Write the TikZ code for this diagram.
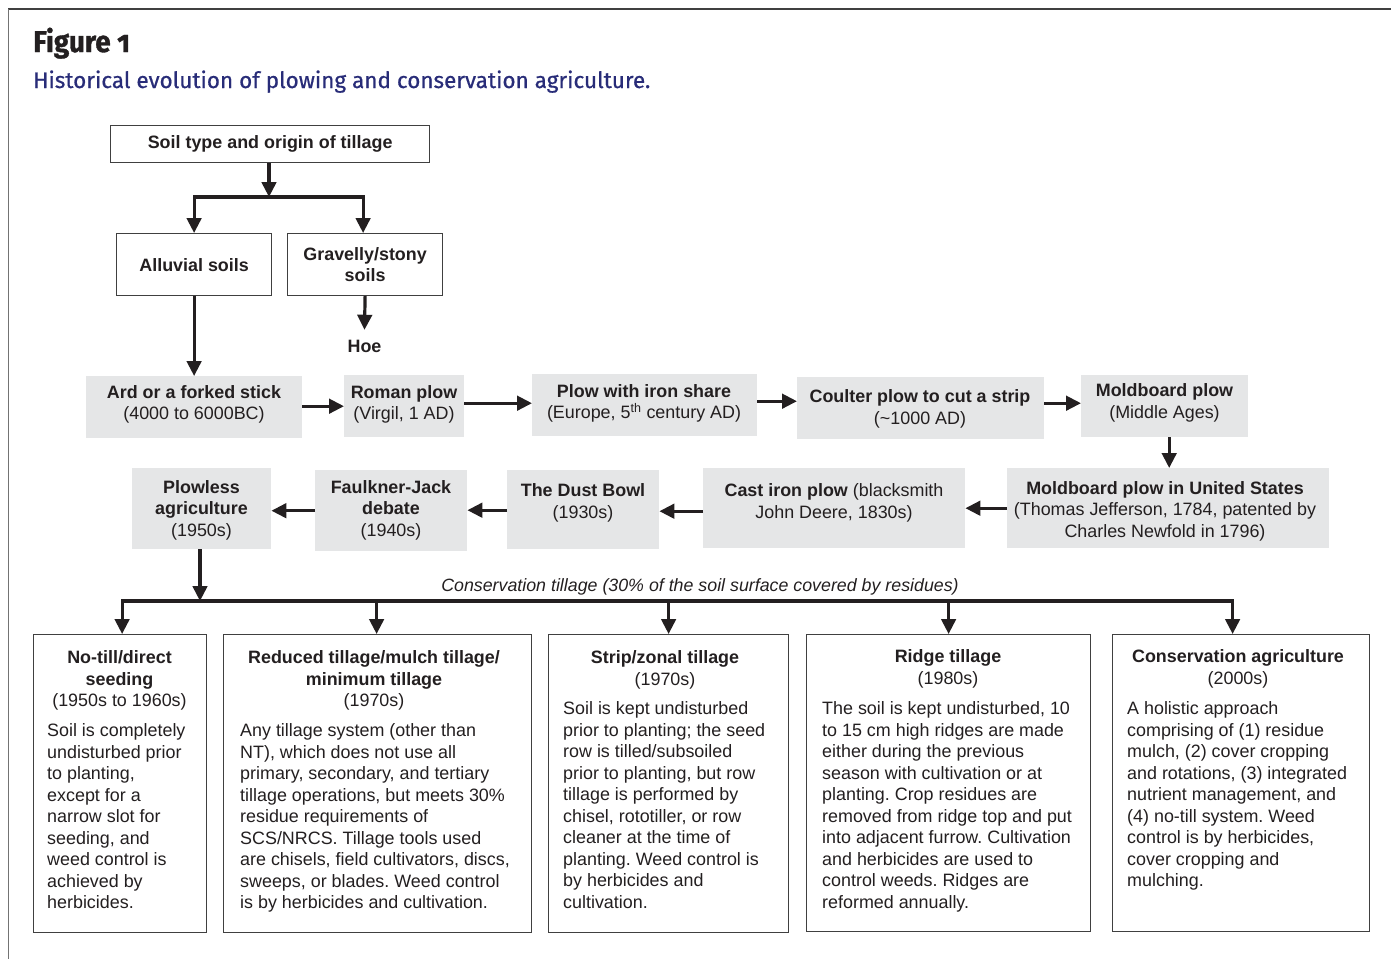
\documentclass[tikz,border=0pt]{standalone}
\usepackage{fontspec}
\usepackage{graphicx}
\setmainfont{Liberation Sans}
\newfontfamily\headfont{Fira Sans}[Numbers=OldStyle, BoldFeatures={FakeBold=1.2}]
\newfontfamily\subfont{Fira Sans}[FakeBold=0.6]
\usetikzlibrary{arrows.meta}
\definecolor{gfill}{RGB}{229,230,231}
\definecolor{navy}{RGB}{40,44,120}
\definecolor{ink}{RGB}{35,31,32}
\definecolor{bord}{RGB}{64,64,64}
\newcommand{\mainsize}{\fontsize{17.9}{21.5}\selectfont}
\frenchspacing
\tikzset{
  wbox/.style={draw=bord, line width=1.2pt, fill=white, inner sep=0pt, anchor=north west},
  gbox/.style={fill=gfill, draw=none, inner sep=0pt, anchor=north west},
  txt/.style={font=\mainsize, align=center, inner sep=0pt, text=ink},
  bodytxt/.style={font=\mainsize, align=left, inner sep=0pt, text=ink, anchor=north west},
  titletxt/.style={font=\mainsize, align=center, inner sep=0pt, text=ink, anchor=north},
  arr/.style={draw=ink, line width=3.2pt, -{Triangle[width=14.5pt,length=15pt]}},
}
\begin{document}
\frenchspacing
\begin{tikzpicture}[x=1pt,y=-1pt]
\useasboundingbox (0,0) rectangle (1391,959);
% frame
\draw[line width=2pt, black!75] (8,9) -- (1391,9);
\draw[line width=1pt, black!55] (8.5,9) -- (8.5,959);
% header
\node[anchor=base west, inner sep=0pt, font=\headfont\bfseries\fontsize{30}{34}\selectfont, text=ink] (fig) at (33,52) {\scalebox{0.93}[1]{Figure 1}};
\node[anchor=base west, inner sep=0pt, font=\subfont\fontsize{22.5}{26}\selectfont, text=navy] (sub) at (33,88) {Historical evolution of plowing and conservation agriculture.};

% top white boxes
\node[wbox, txt, minimum width=319pt, minimum height=37pt] (soil) at (110,125) {\textbf{Soil type and origin of tillage}};
\node[wbox, txt, minimum width=155pt, minimum height=62pt] (alluvial) at (116,233) {\textbf{Alluvial soils}};
\node[wbox, txt, minimum width=155pt, minimum height=62pt] (gravel) at (287,233) {\textbf{Gravelly/stony}\\\textbf{soils}};
\node[txt, font=\bfseries\mainsize, outer sep=10pt] (hoe) at (364.5,346) {Hoe};
\coordinate (br1) at (269,197);

% gray boxes row 1
\node[gbox, minimum width=216pt, minimum height=62pt] (ard) at (86,376) {};
\node[txt] (ardT) at (194,404.5) {\textbf{Ard or a forked stick}\\(4000 to 6000BC)};
\node[gbox, minimum width=120pt, minimum height=62pt] (roman) at (344,375) {};
\node[txt] (romanT) at (404,404.5) {\textbf{Roman plow}\\(Virgil, 1 AD)};
\node[gbox, minimum width=225pt, minimum height=62pt] (iron) at (532,374) {};
\node[txt] (ironT) at (644,403.5) {\textbf{Plow with iron share}\\(Europe, 5\textsuperscript{th} century AD)};
\node[gbox, minimum width=247pt, minimum height=62pt] (coulter) at (797,377) {};
\node[txt] (coulterT) at (920,409) {\textbf{Coulter plow to cut a strip}\\(\textasciitilde 1000 AD)};
\node[gbox, minimum width=167pt, minimum height=62pt] (mold) at (1081,375) {};
\node[txt] (moldT) at (1164.5,403) {\textbf{Moldboard plow}\\(Middle Ages)};

% gray boxes row 2
\node[gbox, minimum width=322pt, minimum height=80pt] (us) at (1007,468) {};
\node[txt] (usT) at (1165,511) {\textbf{Moldboard plow in United States}\\(Thomas Jefferson, 1784, patented by\\Charles Newfold in 1796)};
\node[gbox, minimum width=262pt, minimum height=80pt] (cast) at (703,468) {};
\node[txt] (castT) at (834,503) {\textbf{Cast iron plow} (blacksmith\\John Deere, 1830s)};
\node[gbox, minimum width=152pt, minimum height=79pt] (dust) at (507,470) {};
\node[txt] (dustT) at (583,503) {\textbf{The Dust Bowl}\\(1930s)};
\node[gbox, minimum width=152pt, minimum height=81pt] (faulk) at (315,470) {};
\node[txt] (faulkT) at (391,510) {\textbf{Faulkner-Jack}\\\textbf{debate}\\(1940s)};
\node[gbox, minimum width=139pt, minimum height=81pt] (plowless) at (132,468) {};
\node[txt] (plowlessT) at (201.5,510) {\textbf{Plowless}\\\textbf{agriculture}\\(1950s)};

% branch to bottom
\coordinate (br2) at (200,601);
\node[txt, font=\itshape\fontsize{17.8}{21}\selectfont] (ctlabel) at (700,587) {Conservation tillage (30\% of the soil surface covered by residues)};

% bottom boxes
\node[wbox, minimum width=173pt, minimum height=298pt] (b1) at (33,634) {};
\node[wbox, minimum width=308pt, minimum height=298pt] (b2) at (223,634) {};
\node[wbox, minimum width=240pt, minimum height=298pt] (b3) at (548,634) {};
\node[wbox, minimum width=284pt, minimum height=297pt] (b4) at (806,634) {};
\node[wbox, minimum width=257pt, minimum height=297pt] (b5) at (1112,634) {};

\node[titletxt] (b1T) at (119.5,650.5) {\textbf{No-till/direct}\\\textbf{seeding}\\(1950s to 1960s)};
\node[bodytxt] (b1B) at (47,723.5) {Soil is completely\\undisturbed prior\\to planting,\\except for a\\narrow slot for\\seeding, and\\weed control is\\achieved by\\herbicides.};

\node[titletxt] (b2T) at (374,650.5) {\textbf{Reduced tillage/mulch tillage/}\\\textbf{minimum tillage}\\(1970s)};
\node[bodytxt] (b2B) at (240,723.5) {Any tillage system (other than\\NT), which does not use all\\primary, secondary, and tertiary\\tillage operations, but meets 30\%\\residue requirements of\\SCS/NRCS. Tillage tools used\\are chisels, field cultivators, discs,\\sweeps, or blades. Weed control\\is by herbicides and cultivation.};

\node[titletxt] (b3T) at (665,650.5) {\textbf{Strip/zonal tillage}\\(1970s)};
\node[bodytxt] (b3B) at (563,701.5) {Soil is kept undisturbed\\prior to planting; the seed\\row is tilled/subsoiled\\prior to planting, but row\\tillage is performed by\\chisel, rototiller, or row\\cleaner at the time of\\planting. Weed control is\\by herbicides and\\cultivation.};

\node[titletxt] (b4T) at (948,649.5) {\textbf{Ridge tillage}\\(1980s)};
\node[bodytxt] (b4B) at (822,701.5) {The soil is kept undisturbed, 10\\to 15 cm high ridges are made\\either during the previous\\season with cultivation or at\\planting. Crop residues are\\removed from ridge top and put\\into adjacent furrow. Cultivation\\and herbicides are used to\\control weeds. Ridges are\\reformed annually.};

\node[titletxt] (b5T) at (1238,649.5) {\textbf{Conservation agriculture}\\(2000s)};
\node[bodytxt] (b5B) at (1127,701.5) {A holistic approach\\comprising of (1) residue\\mulch, (2) cover cropping\\and rotations, (3) integrated\\nutrient management, and\\(4) no-till system. Weed\\control is by herbicides,\\cover cropping and\\mulching.};

% connectors top
\draw[arr] (soil.south -| br1) -- (br1);
\draw[arr] (br1) -| (alluvial.north);
\draw[arr] (br1) -| ([xshift=-2pt]gravel.north);
\draw[arr] (gravel.south) -- (hoe.north);
\draw[arr] (alluvial.south) -- (alluvial.south |- ard.north);
% row 1
\draw[arr] ([yshift=1pt]ard.east) -- ([yshift=1pt]ard.east -| roman.west);
\draw[arr] ([yshift=3pt]roman.east) -- ([yshift=3pt]roman.east -| iron.west);
\draw[arr] ([yshift=4pt]iron.east) -- ([yshift=4pt]iron.east -| coulter.west);
\draw[arr] ([yshift=5pt]coulter.east) -- ([yshift=5pt]coulter.east -| mold.west);
\draw[arr] ([xshift=4.5pt]mold.south) -- ([xshift=4.5pt]mold.south |- us.north);
% row 2
\draw[arr] (us.west) -- (us.west -| cast.east);
\draw[arr] ([yshift=-3pt]cast.west) -- ([yshift=-3pt]cast.west -| dust.east);
\draw[arr] ([yshift=-0.5pt]dust.west) -- ([yshift=-0.5pt]dust.west -| faulk.east);
\draw[arr] (faulk.west) -- (faulk.west -| plowless.east);
% bottom branch
\draw[arr] (plowless.south -| br2) -- (br2);
\draw[arr] (br2) -| ([xshift=2pt]b1.north);
\draw[arr] (br2) -| ([xshift=-1pt]b2.north);
\draw[arr] (br2) -| (b3.north);
\draw[arr] (br2) -| (b4.north);
\draw[arr] (br2) -| ([xshift=-8.5pt]b5.north);
\end{tikzpicture}
\end{document}
